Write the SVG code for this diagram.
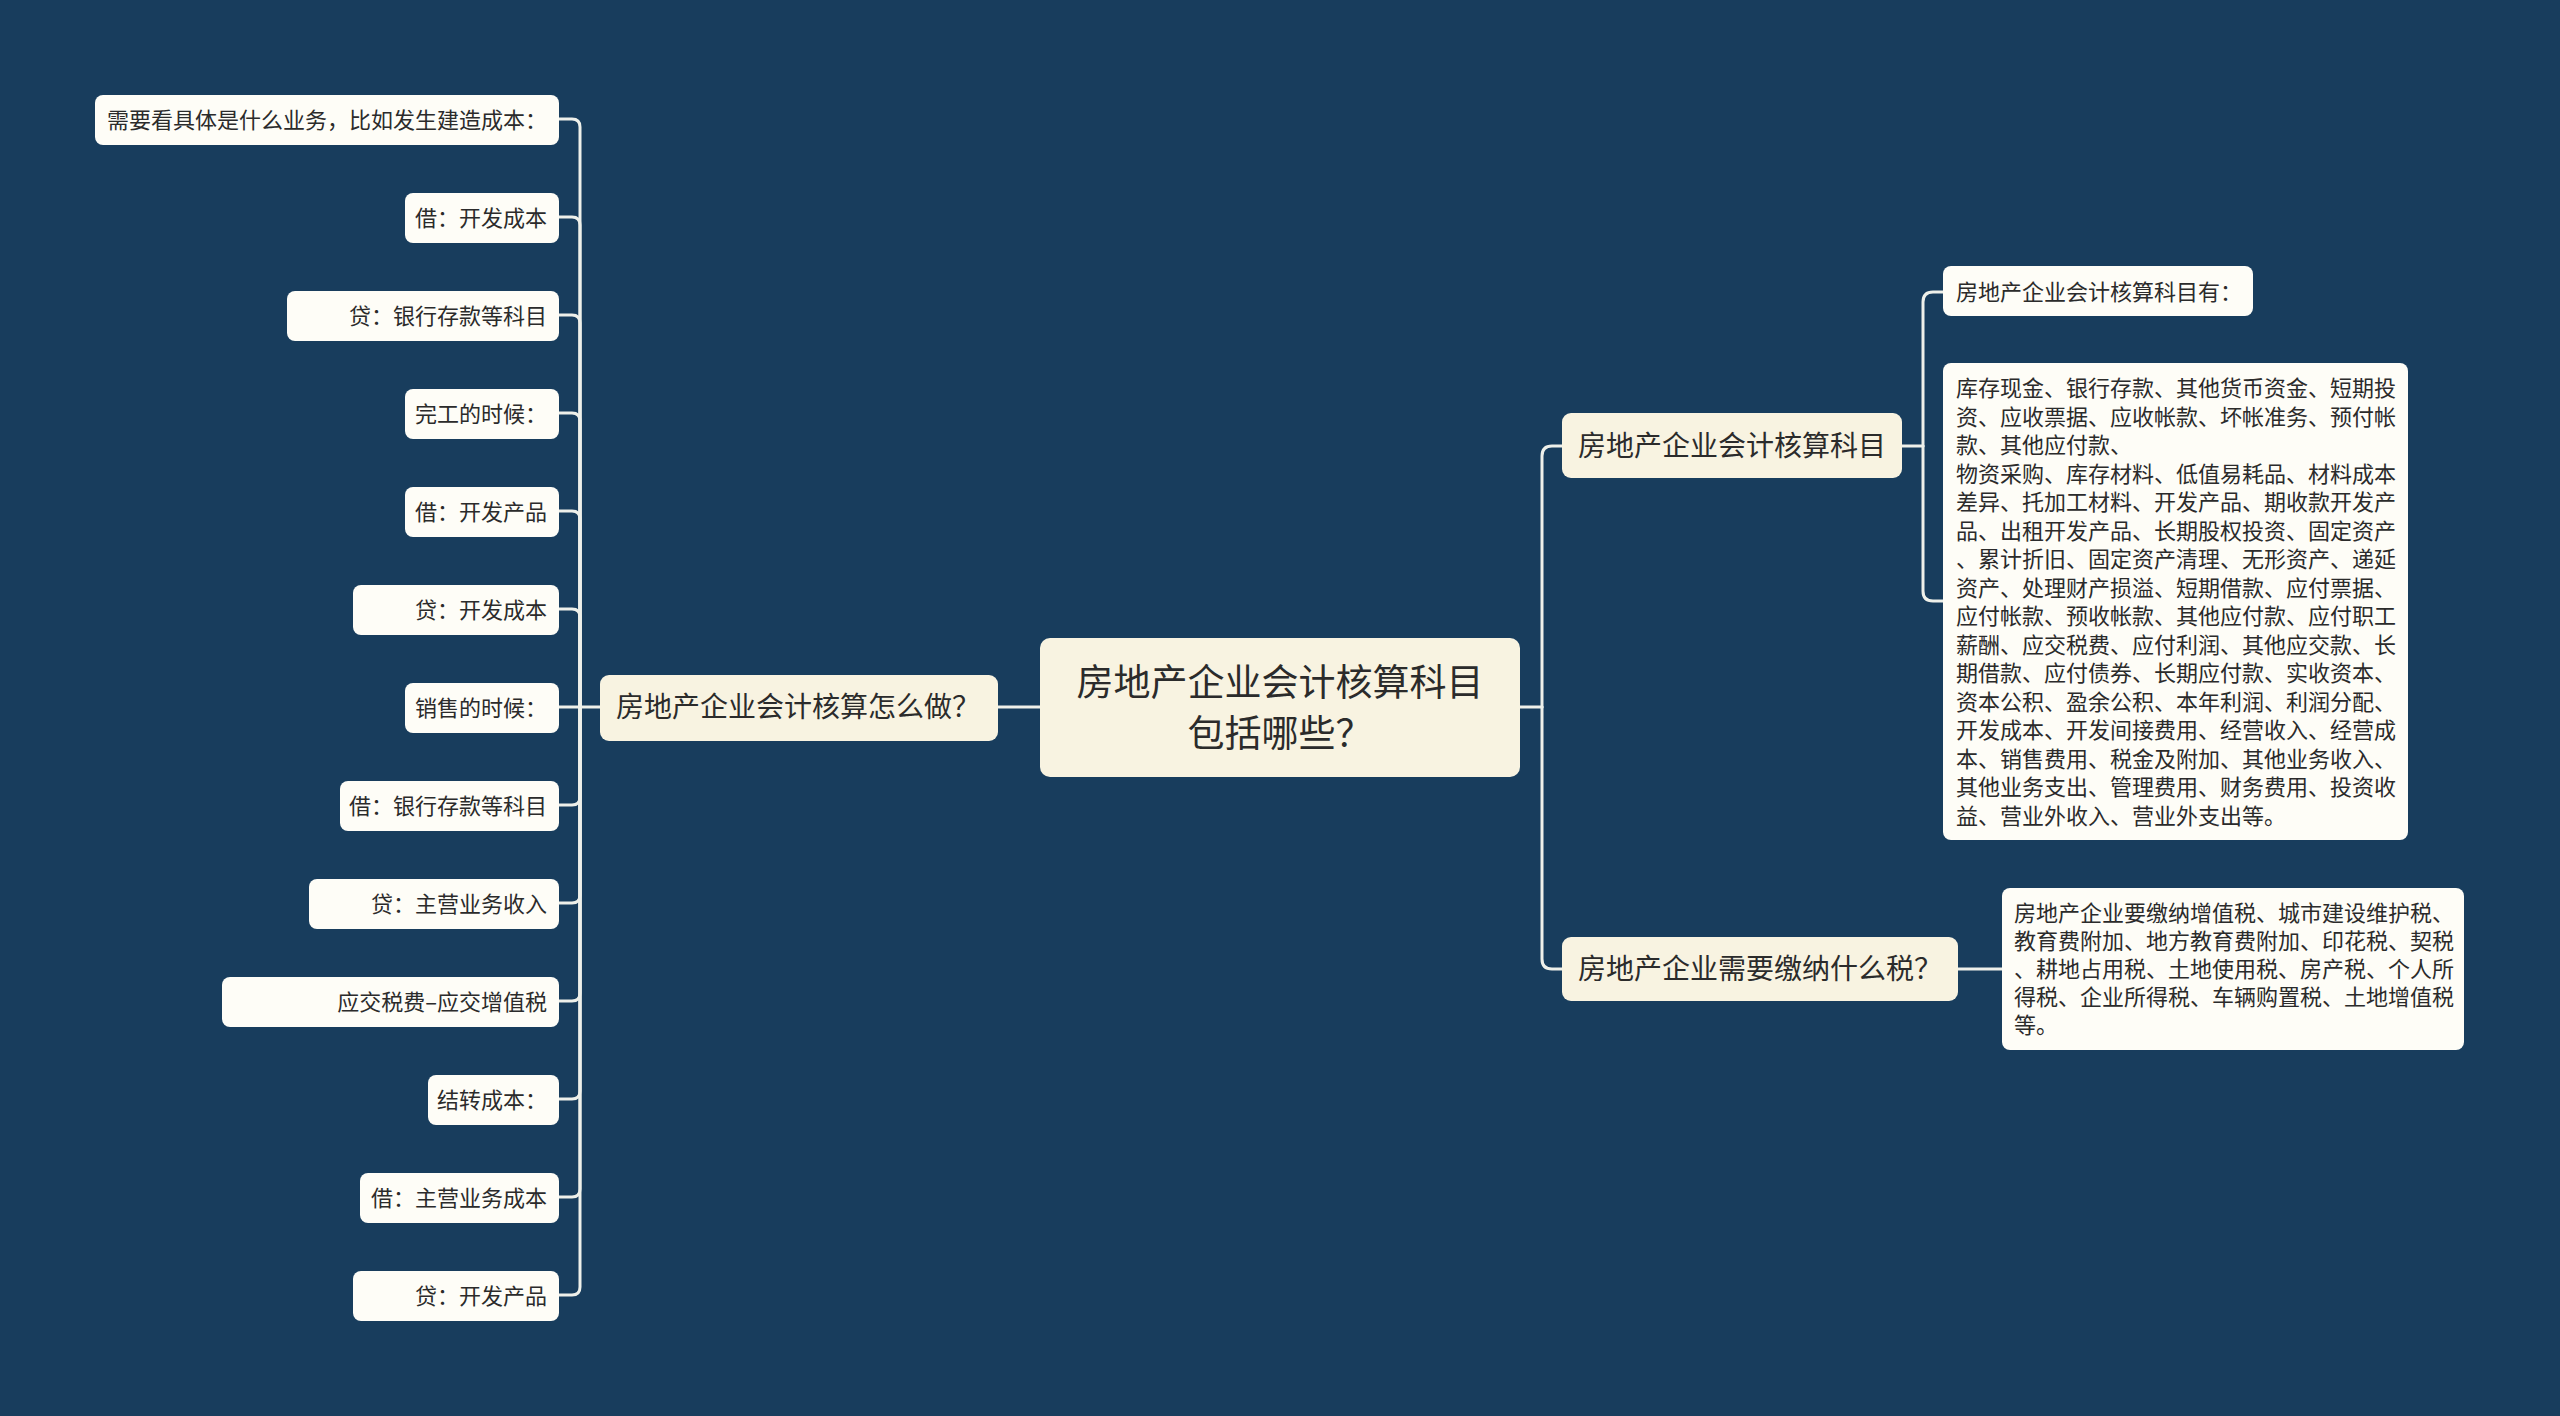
<svg xmlns="http://www.w3.org/2000/svg" width="2560" height="1416" viewBox="0 0 2560 1416">
<style>
.bg{fill:#183d5d}
.main{fill:#f8f3e1}
.leaf{fill:#fefdf7}
.t{font-family:"Noto Sans CJK SC","Noto Sans",sans-serif;fill:#2b2b2b;dominant-baseline:central;transform:translateY(-2px)}
.t36{font-size:37px}
.t28{font-size:28px}
.t22{font-size:22px}
.c{fill:none;stroke:#eef0ea;stroke-width:3;stroke-linecap:round}
</style>
<rect class="bg" x="0" y="0" width="2560" height="1416"/>
<g id="connectors">
<path class="c" d="M1040 707 H998"/>
<path class="c" d="M600 707 H580"/>
<path class="c" d="M580 707 V127 Q580 119 572 119 H559"/>
<path class="c" d="M580 707 V225 Q580 217 572 217 H559"/>
<path class="c" d="M580 707 V323 Q580 315 572 315 H559"/>
<path class="c" d="M580 707 V421 Q580 413 572 413 H559"/>
<path class="c" d="M580 707 V519 Q580 511 572 511 H559"/>
<path class="c" d="M580 707 V617 Q580 609 572 609 H559"/>
<path class="c" d="M580 707 H559"/>
<path class="c" d="M580 707 V797 Q580 805 572 805 H559"/>
<path class="c" d="M580 707 V895 Q580 903 572 903 H559"/>
<path class="c" d="M580 707 V993 Q580 1001 572 1001 H559"/>
<path class="c" d="M580 707 V1091 Q580 1099 572 1099 H559"/>
<path class="c" d="M580 707 V1189 Q580 1197 572 1197 H559"/>
<path class="c" d="M580 707 V1287 Q580 1295 572 1295 H559"/>
<path class="c" d="M1520 707 H1542"/>
<path class="c" d="M1542 707 V456 Q1542 446 1552 446 H1562"/>
<path class="c" d="M1542 707 V959 Q1542 969 1552 969 H1562"/>
<path class="c" d="M1902 446 H1923"/>
<path class="c" d="M1923 446 V302 Q1923 292 1933 292 H1943"/>
<path class="c" d="M1923 446 V591 Q1923 601 1933 601 H1943"/>
<path class="c" d="M1958 969 H2002"/>
</g>
<g id="root">
<rect class="main" x="1040" y="638" width="480" height="139" rx="10"/>
<text class="t t36" x="1280" y="682" text-anchor="middle">房地产企业会计核算科目</text>
<text class="t t36" x="1280" y="733" text-anchor="middle">包括哪些？</text>
</g>
<g id="n-left">
<rect class="main" x="600" y="675" width="398" height="66" rx="9"/>
<text class="t t28" x="616" y="707">房地产企业会计核算怎么做？</text>
</g>
<g id="n-r1">
<rect class="main" x="1562" y="413" width="340" height="65" rx="9"/>
<text class="t t28" x="1578" y="446">房地产企业会计核算科目</text>
</g>
<g id="n-r2">
<rect class="main" x="1562" y="937" width="396" height="64" rx="9"/>
<text class="t t28" x="1578" y="969">房地产企业需要缴纳什么税？</text>
</g>
<g id="l0"><rect class="leaf" x="95" y="95" width="464" height="50" rx="8"/><text class="t t22" x="547" y="120" text-anchor="end">需要看具体是什么业务，比如发生建造成本：</text></g>
<g id="l1"><rect class="leaf" x="405" y="193" width="154" height="50" rx="8"/><text class="t t22" x="547" y="218" text-anchor="end">借：开发成本</text></g>
<g id="l2"><rect class="leaf" x="287" y="291" width="272" height="50" rx="8"/><text class="t t22" x="547" y="316" text-anchor="end">贷：银行存款等科目</text></g>
<g id="l3"><rect class="leaf" x="405" y="389" width="154" height="50" rx="8"/><text class="t t22" x="547" y="414" text-anchor="end">完工的时候：</text></g>
<g id="l4"><rect class="leaf" x="405" y="487" width="154" height="50" rx="8"/><text class="t t22" x="547" y="512" text-anchor="end">借：开发产品</text></g>
<g id="l5"><rect class="leaf" x="353" y="585" width="206" height="50" rx="8"/><text class="t t22" x="547" y="610" text-anchor="end">贷：开发成本</text></g>
<g id="l6"><rect class="leaf" x="405" y="683" width="154" height="50" rx="8"/><text class="t t22" x="547" y="708" text-anchor="end">销售的时候：</text></g>
<g id="l7"><rect class="leaf" x="340" y="781" width="219" height="50" rx="8"/><text class="t t22" x="547" y="806" text-anchor="end">借：银行存款等科目</text></g>
<g id="l8"><rect class="leaf" x="309" y="879" width="250" height="50" rx="8"/><text class="t t22" x="547" y="904" text-anchor="end">贷：主营业务收入</text></g>
<g id="l9"><rect class="leaf" x="222" y="977" width="337" height="50" rx="8"/><text class="t t22" x="547" y="1002" text-anchor="end">应交税费–应交增值税</text></g>
<g id="l10"><rect class="leaf" x="428" y="1075" width="131" height="50" rx="8"/><text class="t t22" x="547" y="1100" text-anchor="end">结转成本：</text></g>
<g id="l11"><rect class="leaf" x="360" y="1173" width="199" height="50" rx="8"/><text class="t t22" x="547" y="1198" text-anchor="end">借：主营业务成本</text></g>
<g id="l12"><rect class="leaf" x="353" y="1271" width="206" height="50" rx="8"/><text class="t t22" x="547" y="1296" text-anchor="end">贷：开发产品</text></g>
<g id="r1a"><rect class="leaf" x="1943" y="266" width="310" height="50" rx="8"/><text class="t t22" x="1956" y="292">房地产企业会计核算科目有：</text></g>
<g id="r1b"><rect class="leaf" x="1943" y="363" width="465" height="477" rx="8"/>
<text class="t t22" x="1956" y="388">库存现金、银行存款、其他货币资金、短期投</text>
<text class="t t22" x="1956" y="416.5">资、应收票据、应收帐款、坏帐准务、预付帐</text>
<text class="t t22" x="1956" y="445">款、其他应付款、</text>
<text class="t t22" x="1956" y="473.5">物资采购、库存材料、低值易耗品、材料成本</text>
<text class="t t22" x="1956" y="502">差异、托加工材料、开发产品、期收款开发产</text>
<text class="t t22" x="1956" y="530.5">品、出租开发产品、长期股权投资、固定资产</text>
<text class="t t22" x="1956" y="559">、累计折旧、固定资产清理、无形资产、递延</text>
<text class="t t22" x="1956" y="587.5">资产、处理财产损溢、短期借款、应付票据、</text>
<text class="t t22" x="1956" y="616">应付帐款、预收帐款、其他应付款、应付职工</text>
<text class="t t22" x="1956" y="644.5">薪酬、应交税费、应付利润、其他应交款、长</text>
<text class="t t22" x="1956" y="673">期借款、应付债券、长期应付款、实收资本、</text>
<text class="t t22" x="1956" y="701.5">资本公积、盈余公积、本年利润、利润分配、</text>
<text class="t t22" x="1956" y="730">开发成本、开发间接费用、经营收入、经营成</text>
<text class="t t22" x="1956" y="758.5">本、销售费用、税金及附加、其他业务收入、</text>
<text class="t t22" x="1956" y="787">其他业务支出、管理费用、财务费用、投资收</text>
<text class="t t22" x="1956" y="815.5">益、营业外收入、营业外支出等。</text>
</g>
<g id="r2a"><rect class="leaf" x="2002" y="888" width="462" height="162" rx="8"/>
<text class="t t22" x="2014" y="913">房地产企业要缴纳增值税、城市建设维护税、</text>
<text class="t t22" x="2014" y="941">教育费附加、地方教育费附加、印花税、契税</text>
<text class="t t22" x="2014" y="969">、耕地占用税、土地使用税、房产税、个人所</text>
<text class="t t22" x="2014" y="997">得税、企业所得税、车辆购置税、土地增值税</text>
<text class="t t22" x="2014" y="1025">等。</text>
</g>
</svg>
